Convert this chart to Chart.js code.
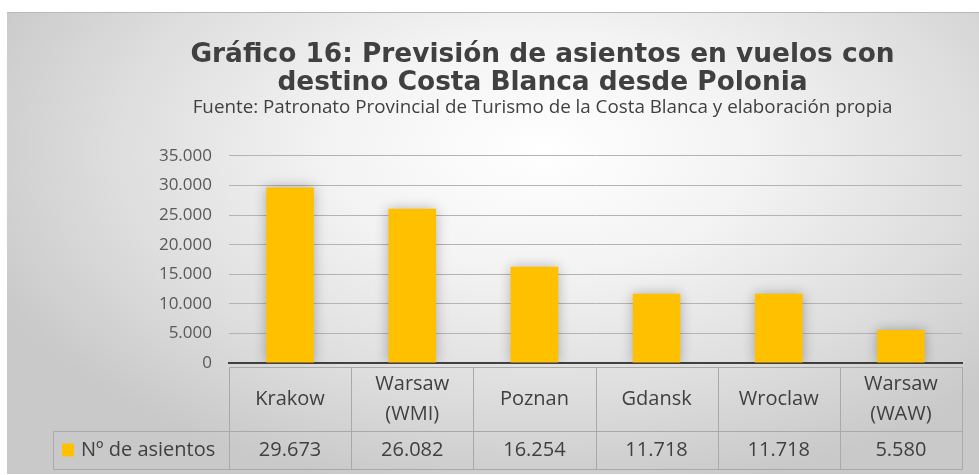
<!DOCTYPE html>
<html>
<head>
<meta charset="utf-8">
<script src="https://cdn.jsdelivr.net/npm/chart.js@4"></script>
<style>
  html, body { margin: 0; padding: 0; background: #ffffff; }
  #wrap {
    position: absolute; left: 7px; top: 12px; width: 972px; height: 462px;
    background: radial-gradient(ellipse 62% 75% at 55% 30%, #ffffff 0%, #f3f3f3 35%, #dedede 70%, #c9c9c9 100%);
  }
  #topline { position: absolute; left: 0; top: 0; width: 972px; height: 1px; background: #b8b8b8; }
  #chart { position: absolute; left: 0; top: 0; }
</style>
</head>
<body>
<div id="wrap">
  <div id="topline"></div>
  <canvas id="chart" width="972" height="462"></canvas>
</div>
<script>
const titleLines = ['Gráfico 16: Previsión de asientos en vuelos con', 'destino Costa Blanca desde Polonia'];
const subtitleText = 'Fuente: Patronato Provincial de Turismo de la Costa Blanca y elaboración propia';
const categories = [['Krakow'], ['Warsaw', '(WMI)'], ['Poznan'], ['Gdansk'], ['Wroclaw'], ['Warsaw', '(WAW)']];
const seriesLabel = 'Nº de asientos';
const seats = [29673, 26082, 16254, 11718, 11718, 5580];
const yTicks = [0, 5000, 10000, 15000, 20000, 25000, 30000, 35000];

const barColor = '#FFC000';
const textColor = '#404040';

// 29673 -> "29.673"
function fmt(v) {
  return String(v).replace(/\B(?=(\d{3})+(?!\d))/g, '.');
}

// soft glow behind the bars
const barShadow = {
  id: 'barShadow',
  beforeDatasetsDraw(chart) {
    const ctx = chart.ctx;
    ctx.save();
    ctx.shadowColor = 'rgba(0,0,0,0.28)';
    ctx.shadowBlur = 12;
  },
  afterDatasetsDraw(chart) {
    chart.ctx.restore();
  }
};

// data table under the x axis: category row, then the value row with legend key
const dataTable = {
  id: 'dataTable',
  afterDraw(chart) {
    const { ctx, chartArea, scales } = chart;
    const x = scales.x;
    const n = seats.length;
    const colW = (chartArea.right - chartArea.left) / n;
    const top = Math.round(chartArea.bottom) + 4.5;
    const mid = top + 64;
    const bot = mid + 38;
    const legL = 46.5;
    const L = Math.round(chartArea.left) + 0.5;
    const R = Math.round(chartArea.right) + 0.5;

    ctx.save();
    ctx.strokeStyle = '#a9a9a9';
    ctx.lineWidth = 1;
    ctx.beginPath();
    ctx.moveTo(L, top); ctx.lineTo(R, top);
    ctx.moveTo(legL, mid); ctx.lineTo(R, mid);
    ctx.moveTo(legL, bot); ctx.lineTo(R, bot);
    for (let i = 0; i <= n; i++) {
      const xx = Math.round(chartArea.left + i * colW) + 0.5;
      ctx.moveTo(xx, top); ctx.lineTo(xx, bot);
    }
    ctx.moveTo(legL, mid); ctx.lineTo(legL, bot);
    ctx.stroke();

    ctx.fillStyle = textColor;
    ctx.font = '20px "Open Sans"';
    ctx.textBaseline = 'middle';
    ctx.textAlign = 'center';

    // category labels, centred in the header row
    const headMid = (top + mid) / 2;
    const lh = 30;
    categories.forEach((lines, i) => {
      const cx = x.getPixelForValue(i);
      const y0 = headMid - (lines.length - 1) * lh / 2;
      lines.forEach((t, k) => ctx.fillText(t, cx, y0 + k * lh));
    });

    // values
    const rowMid = (mid + bot) / 2;
    seats.forEach((v, i) => {
      ctx.fillText(fmt(v), x.getPixelForValue(i), rowMid);
    });

    // legend key
    ctx.fillStyle = barColor;
    ctx.fillRect(55, mid + 12, 12, 13);
    ctx.fillStyle = textColor;
    ctx.textAlign = 'left';
    ctx.fillText(seriesLabel, 74, rowMid);
    ctx.restore();
  }
};

const ctx = document.getElementById('chart').getContext('2d');
new Chart(ctx, {
  type: 'bar',
  data: {
    labels: categories,
    datasets: [{
      label: seriesLabel,
      data: seats,
      backgroundColor: barColor,
      borderWidth: 0,
      categoryPercentage: 1,
      barPercentage: 0.39
    }]
  },
  options: {
    responsive: false,
    animation: false,
    layout: { padding: { left: 116, right: 17, top: 30, bottom: 5 } },
    plugins: {
      legend: { display: false },
      tooltip: { enabled: false },
      title: {
        display: true,
        text: titleLines,
        color: textColor,
        font: { family: '"DejaVu Sans"', size: 26.4, weight: 'bold', lineHeight: 1.03 },
        padding: { top: 0, bottom: 0 }
      },
      subtitle: {
        display: true,
        text: subtitleText,
        color: textColor,
        font: { family: '"Open Sans"', size: 18.8, lineHeight: 1.2 },
        padding: { top: 0, bottom: 37 }
      }
    },
    scales: {
      x: {
        grid: { display: false, drawTicks: false },
        border: { display: true, color: '#404040', width: 2 },
        ticks: { display: false },
        afterFit(scale) { scale.height = 106; }
      },
      y: {
        min: 0,
        max: 35000,
        afterBuildTicks(scale) { scale.ticks = yTicks.map(v => ({ value: v })); },
        grid: { color: '#b4b4b4', lineWidth: 1, drawTicks: false },
        border: { display: false },
        ticks: {
          color: '#595959',
          font: { family: '"Open Sans"', size: 17 },
          padding: 17,
          callback: v => fmt(v)
        },
        afterFit(scale) { scale.width = 106; }
      }
    }
  },
  plugins: [barShadow, dataTable]
});
</script>
</body>
</html>
